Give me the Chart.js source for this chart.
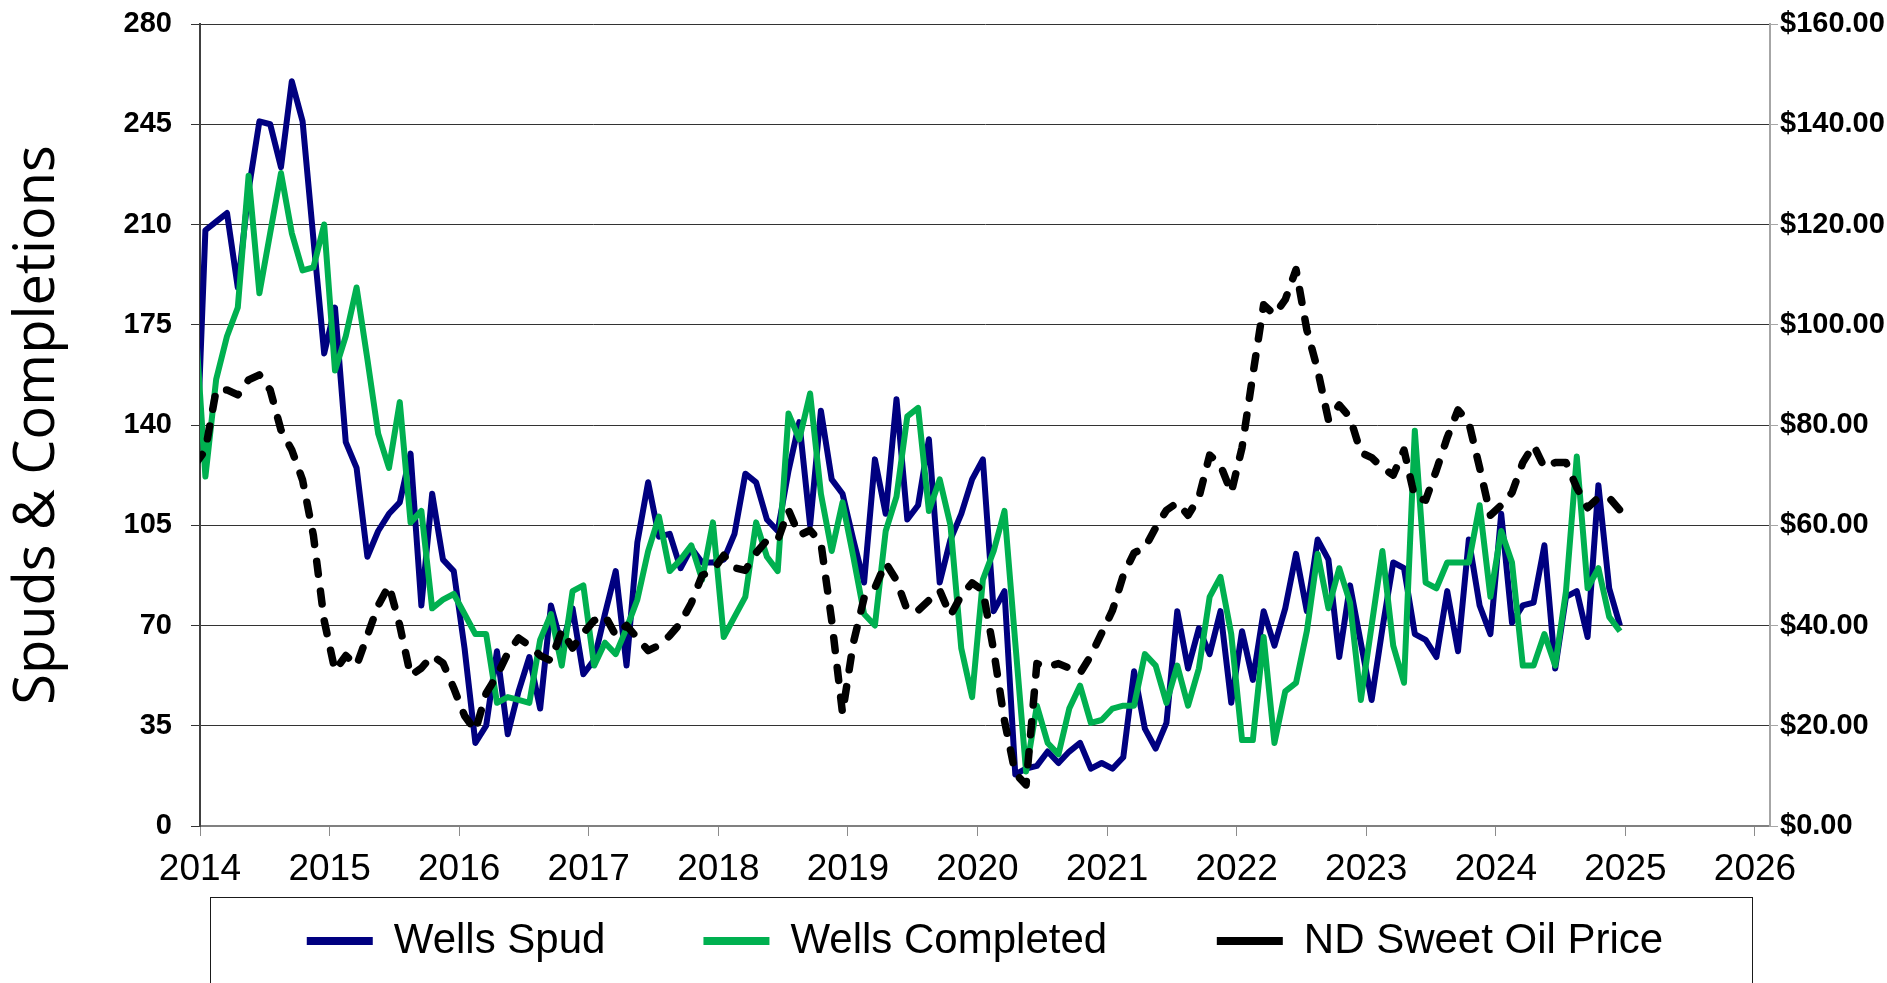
<!DOCTYPE html>
<html>
<head>
<meta charset="utf-8">
<script src="https://cdn.jsdelivr.net/npm/chart.js@4.4.1/dist/chart.umd.min.js"></script>
<style>html,body{margin:0;padding:0;background:#fff;overflow:hidden}canvas{display:block}</style>
</head>
<body>
<canvas id="c" width="1887" height="983"></canvas>
<script>
// ---- data (monthly, first entry = Dec 2013, last = Dec 2024) ----
const firstMonth = '2013-12';
const wellsSpud = [110,
  208,211,214,188,222,246,245,230,260,246,205,165,
  181,134,125,94,103,109,113,130,77,116,93,89,
  62,29,35,61,32,47,59,41,77,63,76,53,
  58,74,89,56,99,120,101,102,90,97,92,92,
  93,102,123,120,107,103,124,141,105,145,121,116,
  100,85,128,109,149,107,112,135,85,100,109,121,
  128,75,82,18,20,21,26,22,26,29,20,22,
  20,24,54,34,27,36,75,55,69,60,75,43,
  68,51,75,63,76,95,75,100,93,59,84,64,
  44,69,92,90,67,65,59,82,61,100,77,67,
  109,71,77,78,98,55,80,82,66,119,83,70];
const wellsCompleted = [180,
  122,156,171,181,227,186,207,228,207,194,195,210,
  159,171,188,163,137,125,148,106,110,76,79,81,
  74,67,67,43,45,44,43,65,74,56,82,84,
  56,64,60,69,79,96,108,89,93,98,86,106,
  66,73,80,106,94,89,144,135,151,116,96,113,
  94,74,70,103,115,143,146,110,121,105,62,45,
  86,96,110,64,19,42,29,25,41,49,36,37,
  41,42,42,60,56,43,56,42,55,80,87,67,
  30,30,66,29,47,50,68,95,76,90,78,44,
  70,96,63,50,138,85,83,92,92,92,112,80,
  103,92,56,56,67,56,82,129,83,90,73,68];
const oilPrice = [72,
  75,87,87,86,89,90,87,79,75,69,58,41,
  31,34,32,38,44,48,40,30,31.5,34,32.5,27.5,
  22,19,26.5,30,34.5,37.5,36,34,33,39,35.5,38.5,
  41,42,38,40,37.5,35,36,38,40.5,44.5,50,51,
  54,51.5,51,54.5,57,57,63,58,59,56.5,41,22.5,
  36.5,45.5,47.5,52.5,49,43,43,45,47,42,46,48.5,
  47,35,21,10.5,8.2,32.4,31.8,32.4,31.5,30.5,34,38.5,
  43,50,54.5,55.5,59.5,63,64.5,62,65.5,74,72,66.5,
  75.5,90,104,102,105,111,99,91,81,84,81.5,74.5,
  73.5,71.5,70,75,65.5,65,71,77.5,83,80.5,71.5,62,
  64,66.5,72.5,76,71.5,72.5,72.5,67.5,63.5,65.5,65.5,63];
const yearTicks = [2014,2015,2016,2017,2018,2019,2020,2021,2022,2023,2024,2025,2026];
const leftTicks = [0,35,70,105,140,175,210,245,280];
const rightTicks = [0,20,40,60,80,100,120,140,160];
const seriesNames = ['Wells Spud','Wells Completed','ND Sweet Oil Price'];

// ---- build month categories and x positions (mid-month) ----
const [fy, fm] = firstMonth.split('-').map(Number);
const months = wellsSpud.map((_, i) => {
  const t = fy * 12 + (fm - 1) + i;
  return Math.floor(t / 12) + '-' + String(t % 12 + 1).padStart(2, '0');
});
const monthToX = s => { const [y, m] = s.split('-').map(Number); return y + (m - 0.5) / 12; };
const pts = arr => arr.map((v, i) => ({ x: monthToX(months[i]), y: v }));

const FONT = "Arial, 'Liberation Sans', sans-serif";
Chart.defaults.font.family = FONT;
Chart.defaults.color = '#000';

const legendGap = ['\u0020'.repeat(6), '\u0020'.repeat(7), ''];

const legendFrame = {
  id: 'legendFrame',
  afterDraw(chart) {
    const lg = chart.legend, ctx = chart.ctx;
    ctx.save();
    ctx.strokeStyle = '#1a1a1a';
    ctx.lineWidth = 1;
    ctx.strokeRect(Math.round(lg.left + 10) + 0.5, Math.round(lg.top + 5) + 0.5, lg.right - lg.left - 28, chart.height);
    ctx.restore();
  }
};

new Chart(document.getElementById('c'), {
  type: 'line',
  data: {
    datasets: [
      { label: seriesNames[0], data: pts(wellsSpud), yAxisID: 'y', borderColor: '#000080', backgroundColor: '#000080',
        borderWidth: 6, pointRadius: 0, tension: 0, order: 3, clip: 0, borderJoinStyle: 'round' },
      { label: seriesNames[1], data: pts(wellsCompleted), yAxisID: 'y', borderColor: '#00b050', backgroundColor: '#00b050',
        borderWidth: 6, pointRadius: 0, tension: 0, order: 2, clip: 0, borderJoinStyle: 'round' },
      { label: seriesNames[2], data: pts(oilPrice), yAxisID: 'y2', borderColor: '#000', backgroundColor: '#000',
        borderWidth: 7.5, pointRadius: 0, tension: 0, order: 1, clip: 0, borderDash: [13, 17], borderCapStyle: 'round', borderJoinStyle: 'round' }
    ]
  },
  options: {
    responsive: false,
    animation: false,
    devicePixelRatio: 1,
    layout: { padding: { top: 24, left: 0, right: 0, bottom: 11 } },
    plugins: {
      tooltip: { enabled: false },
      legend: {
        position: 'bottom',
        fullSize: false,
        labels: {
          usePointStyle: true,
          pointStyle: 'line',
          pointStyleWidth: 66,
          padding: 28,
          color: '#000',
          font: { size: 42, family: FONT },
          sort: (a, b) => a.datasetIndex - b.datasetIndex,
          generateLabels(chart) {
            const items = Chart.defaults.plugins.legend.labels.generateLabels(chart);
            items.forEach(it => {
              it.lineWidth = 8;
              it.text = it.text + legendGap[it.datasetIndex];
              if (it.lineDash && it.lineDash.length) it.lineDashOffset = 10;
            });
            return items;
          }
        }
      }
    },
    scales: {
      x: {
        type: 'linear',
        min: 2014,
        max: 2026.116,
        afterBuildTicks: s => { s.ticks = yearTicks.map(v => ({ value: v })); },
        afterFit: s => { s.height = 66; },
        grid: { drawOnChartArea: false, drawTicks: true, tickLength: 10, color: '#8c8c8c', lineWidth: 1 },
        border: { display: true, color: '#808080', width: 2 },
        ticks: { padding: 12, color: '#000', font: { size: 37, family: FONT }, maxRotation: 0, autoSkip: false,
                 callback: v => String(v) }
      },
      y: {
        position: 'left',
        min: 0, max: 280,
        afterBuildTicks: s => { s.ticks = leftTicks.map(v => ({ value: v })); },
        afterFit: s => { s.width = 200; s.paddingTop = 0; s.paddingBottom = 0; },
        grid: { color: '#333333', lineWidth: 1, drawTicks: true, tickLength: 9 },
        border: { display: true, color: '#404040', width: 2 },
        ticks: { padding: 19, color: '#000', font: { size: 29, weight: 'bold', family: FONT }, callback: v => String(v) },
        title: { display: true, text: 'Spuds & Completions', color: '#000',
                 font: { size: 56, family: "'Open Sans', sans-serif", weight: 'normal' }, padding: { top: 4, bottom: 0 } }
      },
      y2: {
        position: 'right',
        min: 0, max: 160,
        afterBuildTicks: s => { s.ticks = rightTicks.map(v => ({ value: v })); },
        afterFit: s => { s.width = 117; s.paddingTop = 0; s.paddingBottom = 0; },
        grid: { drawOnChartArea: false, drawTicks: true, tickLength: 8, color: '#a6a6a6' },
        border: { display: true, color: '#a6a6a6', width: 2 },
        ticks: { padding: 2, color: '#000', font: { size: 29, weight: 'bold', family: FONT },
                 callback: v => '$' + Number(v).toFixed(2) }
      }
    }
  },
  plugins: [legendFrame]
});
</script>
</body>
</html>
